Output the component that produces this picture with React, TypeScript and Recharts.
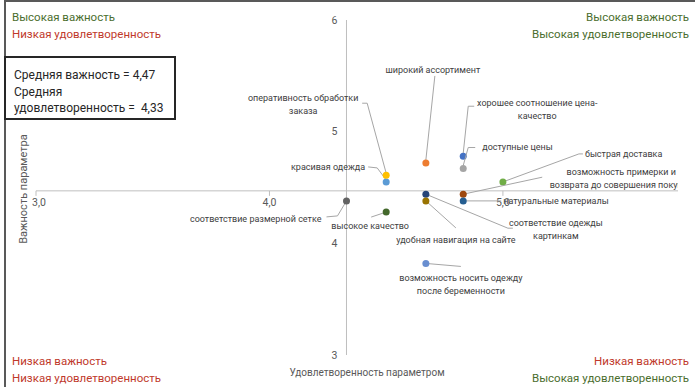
import { ReferenceDot, ReferenceLine, Scatter, ScatterChart, XAxis, YAxis } from 'recharts'

const names = [
  'соответствие размерной сетке',
  'высокое качество',
  'красивая одежда',
  'оперативность обработки\nзаказа',
  'широкий ассортимент',
  'хорошее соотношение цена-\nкачество',
  'доступные цены',
  'быстрая доставка',
  'возможность примерки и\nвозврата до совершения покупки',
  'натуральные материалы',
  'соответствие одежды\nкартинкам',
  'удобная навигация на сайте',
  'возможность носить одежду\nпосле беременности'
]
const satisfaction = [4.33, 4.5, 4.5, 4.5, 4.67, 4.83, 4.83, 5.0, 4.83, 4.83, 4.67, 4.67, 4.67]
const importance = [4.38, 4.28, 4.55, 4.61, 4.72, 4.78, 4.67, 4.55, 4.44, 4.38, 4.44, 4.38, 3.82]
const colors = [
  '#636363',
  '#43682B',
  '#5B9BD5',
  '#FFC000',
  '#ED7D31',
  '#4472C4',
  '#A5A5A5',
  '#70AD47',
  '#9E480E',
  '#255E91',
  '#264478',
  '#997300',
  '#698ED0'
]

const meanImportance = 4.47
const meanSatisfaction = 4.33
const xTicks = [3, 4, 5]
const xTickLabels = ['3,0', '4,0', '5,0']
const yTicks = [3, 4, 5, 6]
const yTickLabels = ['3', '4', '5', '6']

// label offsets (px, relative to the point) + leader line
const labelLayout = [
  { anchor: 'end', tx: -25, ty: 18, leader: [[0, 0], [-9, 15], [-20, 16]] },
  { anchor: 'middle', tx: -16, ty: 14, leader: [[0, 0], [-15, 5]] },
  { anchor: 'end', tx: -21, ty: -15, leader: [[0, -2], [-9, -14], [-18, -15]] },
  { anchor: 'middle', tx: -83, ty: -77, leader: [[0, -2], [-19, -72], [-24, -72]] },
  { anchor: 'middle', tx: 7, ty: -93, leader: [[0, -3], [9, -87]] },
  { anchor: 'middle', tx: 74, ty: -53, leader: [[0, -3], [5, -50], [11, -50]] },
  { anchor: 'start', tx: 19, ty: -22, leader: [[0, -3], [5, -21], [12, -21]] },
  { anchor: 'start', tx: 82, ty: -28, leader: [[0, 0], [76, -28], [80, -28]] },
  { anchor: 'middle', tx: 158, ty: -22, leader: [[0, 0], [79, -17]] },
  { anchor: 'start', tx: 40, ty: 0, leader: [[0, 0], [38, 0]] },
  { anchor: 'middle', tx: 130, ty: 29, leader: [[0, 0], [82, 34], [87, 34]] },
  { anchor: 'middle', tx: 30, ty: 39, leader: [[0, 0], [30, 27]] },
  { anchor: 'middle', tx: 35, ty: 15, leader: [[0, 0], [35, 3]] }
]

const FONT = 'Roboto, "Open Sans", sans-serif'
const GREEN = '#4B6E2E'
const RED = '#C0392B'

function PointMark(props: any) {
  const { cx, cy, payload } = props
  const lay = labelLayout[payload.i]
  const lines = names[payload.i].split('\n')
  const pts = lay.leader.map(([dx, dy]) => `${cx + dx},${cy + dy}`).join(' ')
  return (
    <g>
      <polyline points={pts} fill="none" stroke="#A6A6A6" strokeWidth={1} />
      <circle cx={cx} cy={cy} r={3.5} fill={colors[payload.i]} />
      {lines.map((t, k) => (
        <text
          key={k}
          x={cx + lay.tx}
          y={cy + lay.ty + k * 13}
          textAnchor={lay.anchor as any}
          dominantBaseline="central"
          fontSize={9}
          fontFamily={FONT}
          fill="#404040">
          {t}
        </text>
      ))}
    </g>
  )
}

function Corner({ style, lines }: { style: any; lines: [string, string][] }) {
  return (
    <div style={{ position: 'absolute', fontFamily: FONT, fontSize: 11.5, lineHeight: '17px', ...style }}>
      {lines.map(([t, c], k) => (
        <div key={k} style={{ color: c }}>
          {t}
        </div>
      ))}
    </div>
  )
}

export default function App() {
  return (
    <div style={{ position: 'absolute', left: 0, top: 0, width: 695, height: 387, background: '#fff' }}>
      <ScatterChart width={695} height={387} margin={{ top: 20, right: 17, bottom: 32, left: 36 }}>
        <XAxis type="number" dataKey="x" domain={[3, 5.75]} hide allowDataOverflow />
        <YAxis type="number" dataKey="y" domain={[3, 6]} hide allowDataOverflow />
        <ReferenceLine y={meanImportance} stroke="#BFBFBF" strokeWidth={1} />
        <ReferenceLine x={meanSatisfaction} stroke="#BFBFBF" strokeWidth={1} />
        {xTicks.map((v, k) => (
          <ReferenceDot
            key={'xt' + v}
            x={v}
            y={meanImportance}
            r={0}
            shape={(p: any) => (
              <g>
                <line x1={p.cx} y1={p.cy} x2={p.cx} y2={p.cy + 5} stroke="#BFBFBF" />
                <text
                  x={p.cx + (k === 0 ? 3 : 0)}
                  y={p.cy + 12}
                  textAnchor="middle"
                  dominantBaseline="central"
                  fontSize={10.5}
                  fontFamily={FONT}
                  fill="#595959">
                  {xTickLabels[k]}
                </text>
              </g>
            )}
          />
        ))}
        {yTicks.map((v, k) => (
          <ReferenceDot
            key={'yt' + v}
            x={meanSatisfaction}
            y={v}
            r={0}
            shape={(p: any) => (
              <text
                x={p.cx - 12}
                y={p.cy}
                textAnchor="middle"
                dominantBaseline="central"
                fontSize={10.5}
                fontFamily={FONT}
                fill="#595959">
                {yTickLabels[k]}
              </text>
            )}
          />
        ))}
        {names.map((n, i) => (
          <Scatter
            key={n}
            name={n}
            data={[{ x: satisfaction[i], y: importance[i], i }]}
            fill={colors[i]}
            shape={PointMark}
            isAnimationActive={false}
          />
        ))}
      </ScatterChart>

      <div style={{ position: 'absolute', left: 4, top: 0, width: 691, height: 2, background: '#595959' }} />
      <div style={{ position: 'absolute', left: 4, top: 0, width: 2, height: 387, background: '#595959' }} />

      <Corner
        style={{ left: 12, top: 9 }}
        lines={[
          ['Высокая важность', GREEN],
          ['Низкая удовлетворенность', RED]
        ]}
      />
      <Corner
        style={{ right: 6, top: 9, textAlign: 'right' }}
        lines={[
          ['Высокая важность', GREEN],
          ['Высокая удовлетворенность', GREEN]
        ]}
      />
      <Corner
        style={{ left: 12, top: 353 }}
        lines={[
          ['Низкая важность', RED],
          ['Низкая удовлетворенность', RED]
        ]}
      />
      <Corner
        style={{ right: 6, top: 353, textAlign: 'right' }}
        lines={[
          ['Низкая важность', RED],
          ['Высокая удовлетворенность', GREEN]
        ]}
      />

      <div
        style={{
          position: 'absolute',
          left: 4,
          top: 56,
          width: 172,
          height: 64,
          border: '2px solid #262626',
          background: '#fff',
          fontFamily: FONT,
          fontSize: 12,
          lineHeight: '16.5px',
          color: '#262626',
          padding: '9px 0 0 8px',
          boxSizing: 'border-box'
        }}>
        <div>Средняя важность = 4,47</div>
        <div>Средняя</div>
        <div style={{ whiteSpace: 'pre' }}>удовлетворенность =  4,33</div>
      </div>

      <div
        style={{
          position: 'absolute',
          left: 367,
          top: 367,
          transform: 'translateX(-50%)',
          whiteSpace: 'nowrap',
          fontFamily: FONT,
          fontSize: 10,
          color: '#595959'
        }}>
        Удовлетворенность параметром
      </div>
      <div
        style={{
          position: 'absolute',
          left: 23,
          top: 189,
          transform: 'translate(-50%, -50%) rotate(-90deg)',
          whiteSpace: 'nowrap',
          fontFamily: FONT,
          fontSize: 11,
          color: '#595959'
        }}>
        Важность параметра
      </div>
    </div>
  )
}
